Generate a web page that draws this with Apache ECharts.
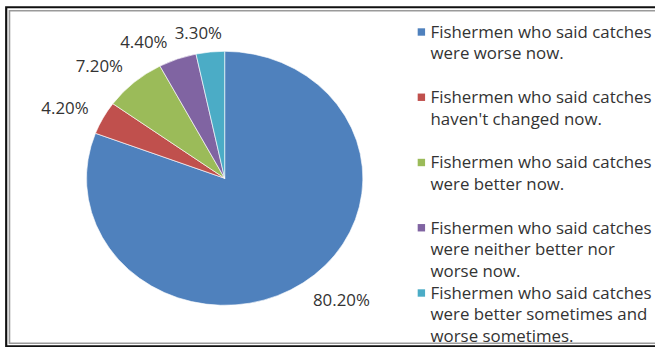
<!DOCTYPE html>
<html>
<head>
<meta charset="utf-8">
<script src="https://cdn.jsdelivr.net/npm/echarts@6/dist/echarts.min.js"></script>
<style>
  html, body { margin: 0; padding: 0; background: #fff; overflow: hidden; }
  #stage { width: 655px; height: 347px; position: relative; overflow: hidden; }
  /* the drawing is laid out on a narrower canvas and widened, which gives the oval pie */
  #chart { width: 602px; height: 347px; transform: scaleX(1.088); transform-origin: 0 0; }
</style>
</head>
<body>
<div id="stage"><div id="chart"></div></div>
<script>
// ---- data ----
const categories = [
  'Fishermen who said catches\nwere worse now.',
  "Fishermen who said catches\nhaven't changed now.",
  'Fishermen who said catches\nwere better now.',
  'Fishermen who said catches\nwere neither better nor\nworse now.',
  'Fishermen who said catches\nwere better sometimes and\nworse sometimes.'
];
const shares = [80.2, 4.2, 7.2, 4.4, 3.3];
const sliceColors = ['#4F81BD', '#C0504D', '#9BBB59', '#8064A2', '#4BACC6'];

// ---- layout ----
const FONT = '"Open Sans", "DejaVu Sans", sans-serif';
const FONT_SIZE = 15.5;
const TEXT_COLOR = '#333';
const CENTER = [206.5, 178.3];
const RADIUS = 127;
const LABEL_GAP_X = 14;
const LABEL_GAP_Y = 11;
const LABEL_H = 16;
const LABEL_SPACING = 4.5;
const CORNER_BLEND_X = 0.25;
const CORNER_BLEND_Y = 0.8;
const LEGEND_LEFT = 383.9;
const LEGEND_FIRST_Y = 32;
const LEGEND_SLOT = 65.25;
const LINE_H = 21.75;
const ICON = [6.8, 7.4];

const fmtPct = v => v.toFixed(2) + '%';
const lineCount = s => s.split('\n').length;

// measure label text widths
const ctx = document.createElement('canvas').getContext('2d');
ctx.font = FONT_SIZE + 'px ' + FONT;
const labelW = shares.map(v => ctx.measureText(fmtPct(v)).width + 2);

// centre of a value label sitting just outside the rim at angle theta
// (deg clockwise from 12 o'clock): the label box is pushed off the rim by
// a gap, and slides towards its corner as the direction turns diagonal
function labelCentre(theta, w, h) {
  const a = theta * Math.PI / 180;
  const dx = Math.sin(a), dy = -Math.cos(a);
  const px = CENTER[0] + dx * RADIUS, py = CENTER[1] + dy * RADIUS;
  const fx = Math.min(1, Math.abs(dx) / CORNER_BLEND_X);
  const fy = Math.min(1, Math.abs(dy) / CORNER_BLEND_Y);
  return [
    px + dx * LABEL_GAP_X + Math.sign(dx) * fx * w / 2,
    py + dy * LABEL_GAP_Y + Math.sign(dy) * fy * h / 2
  ];
}

// mid angle of every slice
const total = shares.reduce((a, b) => a + b, 0);
const midAngles = [];
{
  let acc = 0;
  shares.forEach(v => { midAngles.push(360 * (acc + v / 2) / total); acc += v; });
}

// place labels, nudging round the pie when two would collide
const labelPos = new Array(shares.length);
const placed = [];
for (let i = shares.length - 1; i >= 0; i--) {
  let theta = midAngles[i];
  const w = labelW[i], h = LABEL_H;
  let c = labelCentre(theta, w, h);
  for (let guard = 0; guard < 400; guard++) {
    const hit = placed.find(o =>
      Math.abs(o.c[0] - c[0]) < (o.w + w) / 2 + LABEL_SPACING && Math.abs(o.c[1] - c[1]) < h);
    if (!hit) break;
    theta += (hit.theta > theta ? -0.25 : 0.25);
    c = labelCentre(theta, w, h);
  }
  labelPos[i] = c;
  placed.push({ c, w, theta });
}

// one legend block per category; leading blank lines keep the icon beside the first text line
const legends = categories.map((name, i) => {
  const n = lineCount(name);
  const y1 = LEGEND_FIRST_Y + i * LEGEND_SLOT;
  return {
    data: [name],
    formatter: s => '\n'.repeat(n - 1) + s,
    orient: 'vertical',
    left: LEGEND_LEFT,
    top: y1 - (2 * n - 1) * LINE_H / 2,
    padding: 0,
    itemGap: 0,
    itemWidth: ICON[0],
    itemHeight: ICON[1],
    icon: 'rect',
    selectedMode: false,
    itemStyle: { borderWidth: 0 },
    textStyle: { fontFamily: FONT, fontSize: FONT_SIZE, color: TEXT_COLOR, lineHeight: LINE_H }
  };
});

const chart = echarts.init(document.getElementById('chart'), null, { renderer: 'svg' });
chart.setOption({
  animation: false,
  backgroundColor: '#fff',
  color: sliceColors,
  legend: legends,
  graphic: [
    { type: 'rect', silent: true, shape: { x: 5.7, y: 7.2, width: 700, height: 339 },
      style: { fill: 'none', stroke: '#111', lineWidth: 2 } },
    { type: 'rect', silent: true, shape: { x: 8.7, y: 10.7, width: 700, height: 332.6 },
      style: { fill: 'none', stroke: '#9a9a9a', lineWidth: 1.5 } }
  ],
  series: [{
    type: 'pie',
    center: CENTER,
    radius: RADIUS,
    startAngle: 90,
    clockwise: true,
    avoidLabelOverlap: false,
    silent: true,
    emphasis: { disabled: true },
    itemStyle: { borderColor: '#fff', borderWidth: 0.6 },
    data: categories.map((name, i) => ({ name, value: shares[i] })),
    label: {
      show: true,
      position: 'outside',
      formatter: p => fmtPct(p.value),
      fontFamily: FONT,
      fontSize: FONT_SIZE,
      color: TEXT_COLOR
    },
    labelLine: { show: false },
    labelLayout: p => ({
      x: labelPos[p.dataIndex][0],
      y: labelPos[p.dataIndex][1],
      align: 'center',
      verticalAlign: 'middle'
    })
  }]
});
</script>
</body>
</html>
